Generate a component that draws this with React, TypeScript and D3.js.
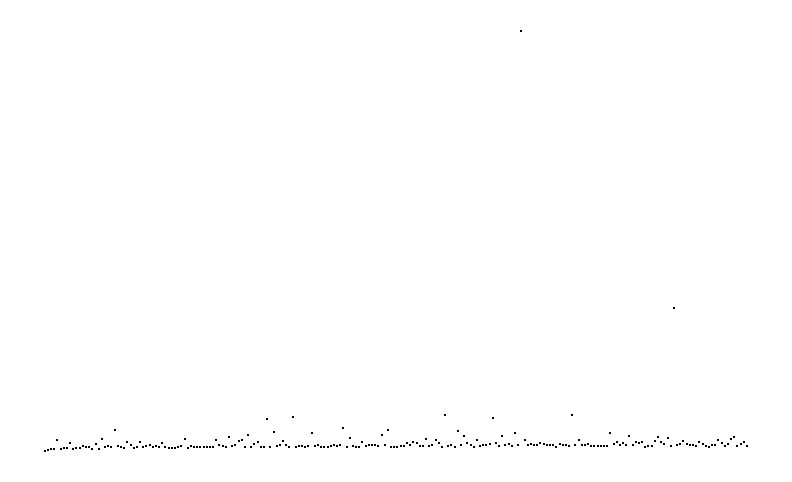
import React from "react";
import * as d3 from "d3";

const WIDTH = 792;
const HEIGHT = 482;

// Series values in reading order (sequence index on x)
const valuesA: number[] = [
  1, 2, 3, 3, 12, 3, 4, 4, 9, 3, 4, 4, 6, 5, 5, 3, 8, 3, 13, 5,
  6, 5, 22, 6, 5, 4, 10, 7, 4, 5, 10, 5, 6, 7, 5, 6, 5, 9, 5, 4,
  4, 4, 5, 6, 13, 4, 6, 5, 5, 5, 5, 5, 5, 5, 12, 7,
];
const valuesB: number[] = [
  6, 5, 15, 6, 7, 11, 12, 5, 17, 5, 8, 10, 5, 5, 33, 5, 20, 6, 7, 11,
  7, 5, 35, 5, 6, 6, 5, 6, 19, 6, 7, 5, 5, 5, 6, 7, 6, 7, 24, 5,
  14, 6, 5, 5, 10, 6, 7, 7, 7, 6, 17, 7, 22, 5, 5,
];
const valuesC: number[] = [
  5, 6, 6, 9, 7, 10, 9, 6, 6, 13, 6, 7, 12, 9, 5, 37, 6, 7, 5, 21,
  7, 16, 9, 7, 5, 12, 6, 7, 7, 8, 34, 9, 6, 16, 7, 8, 6, 19, 7, 421,
  12, 7, 8, 7, 7, 9, 8, 7, 7, 7, 5, 8, 7, 7, 6,
];
const valuesD: number[] = [
  37, 7, 12, 7, 7, 8, 6, 6, 6, 6, 6, 6, 19, 8, 10, 7, 9, 7, 16,
  7, 10, 9, 10, 5, 6, 6, 11, 15, 10, 8, 14, 6, 144, 7, 8, 11, 8, 7, 7,
  6, 10, 8, 6, 5, 7, 7, 12, 9, 6, 8, 13, 15, 6, 8, 10, 6,
];

const values: number[] = [...valuesA, ...valuesB, ...valuesC, ...valuesD];

export default function App() {
  const x = d3
    .scaleLinear()
    .domain([0, values.length - 1])
    .range([44.7, 747]);
  const y = d3.scaleLinear().domain([0, 421]).range([451.67, 30.67]);

  return (
    <svg
      width={WIDTH}
      height={HEIGHT}
      style={{ position: "absolute", left: 0, top: 0, background: "#fff" }}
    >
      <rect width={WIDTH} height={HEIGHT} fill="#fff" />
      <g shapeRendering="crispEdges">
        {values.map((v, i) => (
          <rect
            key={i}
            x={Math.round(x(i) - 1)}
            y={Math.round(y(v) - 1)}
            width={2}
            height={2}
            fill="#000"
          />
        ))}
      </g>
    </svg>
  );
}
